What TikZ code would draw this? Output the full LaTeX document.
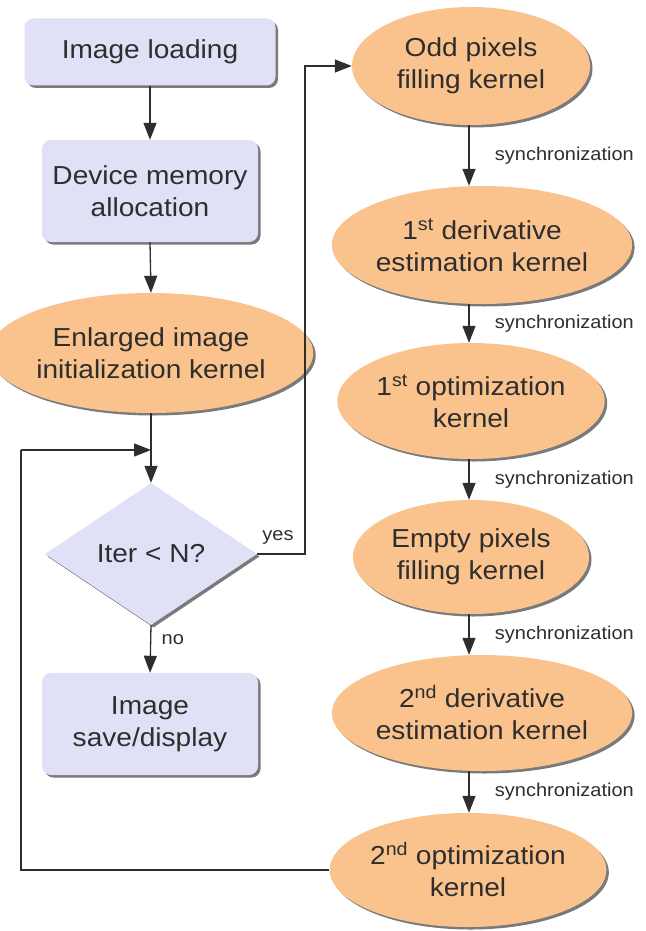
\documentclass[tikz,border=0pt]{standalone}
\usepackage{fontspec}
\setmainfont[FakeStretch=1.08]{Liberation Sans}
\usetikzlibrary{arrows.meta,shapes.geometric,shadows}
\definecolor{boxblue}{HTML}{E0E0F7}
\definecolor{kernorange}{HTML}{FAC38E}
\definecolor{ink}{HTML}{2E2E2E}
\definecolor{shade}{HTML}{7A7A7A}
\begin{document}
\begin{tikzpicture}[x=1pt,y=-1pt,
  every node/.style={text=ink},
  mainfont/.style={font=\fontsize{26}{32}\selectfont, align=center},
  shadowed/.style={drop shadow={shadow xshift=2.5pt,shadow yshift=-2.5pt,fill=shade,opacity=1}},
  hostbox/.style={mainfont, shadowed, rectangle, rounded corners=9pt, fill=boxblue, inner sep=0pt},
  kernel/.style={mainfont, shadowed, ellipse, fill=kernorange, inner sep=0pt},
  decision/.style={mainfont, shadowed, diamond, fill=boxblue, inner sep=0pt, aspect=1.5},
  flow/.style={draw=ink, line width=1.3pt, -{Triangle[length=17pt,width=13pt]}},
  wire/.style={draw=ink, line width=1.3pt},
  small/.style={font=\fontsize{18.5}{22}\selectfont}
]
\useasboundingbox (0,0) rectangle (645,931);

% host-side steps (left column)
\node[hostbox, minimum width=251pt, minimum height=67pt] (load) at (150,52) {Image loading};
\node[hostbox, minimum width=216pt, minimum height=102pt] (dev) at (150,191) {Device memory\\allocation};
\node[kernel, minimum width=288pt, minimum height=120pt] (enl) at (151,353) {Enlarged image\\initialization kernel};
\node[decision, minimum width=212pt, minimum height=142pt] (iter) at (151,554) {Iter < N?};
\node[hostbox, minimum width=216pt, minimum height=102pt] (save) at (150,724) {Image\\save/display};

% device kernels (right column)
\node[kernel, minimum width=238pt, minimum height=118pt] (odd) at (471,66) {Odd pixels\\filling kernel};
\node[kernel, minimum width=292pt, minimum height=118pt] (d1) at (482,245) {1\textsuperscript{st} derivative\\estimation kernel};
\node[kernel, minimum width=236pt, minimum height=116pt] (o1) at (471,401) {1\textsuperscript{st} optimization\\kernel};
\node[kernel, minimum width=236pt, minimum height=114pt] (emp) at (471,557) {Empty pixels\\filling kernel};
\node[kernel, minimum width=292pt, minimum height=116pt] (d2) at (482,713) {2\textsuperscript{nd} derivative\\estimation kernel};
\node[kernel, minimum width=262pt, minimum height=114pt] (o2) at (468,870) {2\textsuperscript{nd} optimization\\kernel};

% left column flow
\draw[flow] (load.south) -- (dev.north);
\draw[flow] (dev.south) -- (enl.north);
\coordinate (join) at (iter.north |- 0,450);
\draw[flow] (enl.south) -- (iter.north);
\draw[flow] (iter.south) -- node[small, right=7pt, pos=0.3] {no} (save.north);

% loop entry: yes branch to the first kernel
\coordinate (yesturn) at (305,0);
\draw[flow] (iter.east) -- (iter.east -| yesturn) -- (yesturn |- odd.west) -- (odd.west);
\node[small] (yeslbl) at (278,537) {yes};

% kernel chain with synchronization points
\coordinate (col) at (469,0);
\foreach \a/\b in {odd/d1, d1/o1, o1/emp, emp/d2, d2/o2}{
  \draw[flow] (col |- \a.south) -- (col |- \b.north)
    node[small, midway, right=22pt] {synchronization};
}

% loop back to the decision
\coordinate (back) at (21,0);
\draw[wire] (o2.west) -- (o2.west -| back) -- (back |- join);
\draw[flow] (back |- join) -- (join);
\end{tikzpicture}
\end{document}
